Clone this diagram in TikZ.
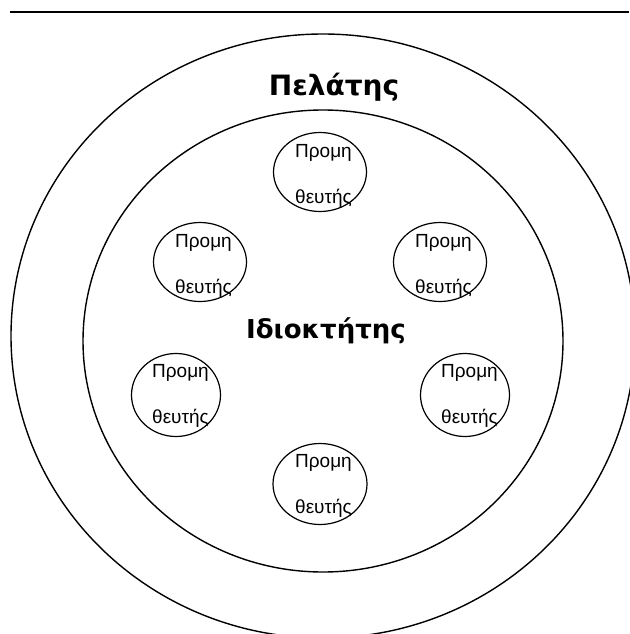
\documentclass[tikz,border=0pt]{standalone}
\usepackage{fontspec}
\setmainfont{Liberation Sans}
\newfontfamily\titlefont{DejaVu Sans}
\usetikzlibrary{shapes.geometric}
\begin{document}
\begin{tikzpicture}[x=1pt, y=-1pt,
  ring/.style={draw, ellipse, line width=1.4pt, inner sep=0pt},
  agent/.style={draw, ellipse, line width=1.2pt, inner sep=0pt},
  % anchored at the baseline of the second line
  agentlabel/.style={align=left, inner sep=0pt, anchor=base west,
    font=\fontsize{19}{46}\selectfont},
  title/.style={inner sep=0pt, anchor=base}
]
\useasboundingbox (0,0) rectangle (629,634);

% rule across the top
\coordinate (ruleL) at (10,12);
\coordinate (ruleR) at (629,12);
\draw[line width=1.8pt] (ruleL) -- (ruleR);

% client ring and owner ring
\node[ring, minimum width=624pt, minimum height=604pt] (client) at (323,336) {};
\node[ring, minimum width=480pt, minimum height=462pt] (owner) at (323,341) {};

\node[title, font=\titlefont\bfseries\fontsize{28}{34}\selectfont] (clientlbl) at (334,95) {Πελάτης};
\node[title, font=\titlefont\bfseries\fontsize{26}{32}\selectfont] (ownerlbl) at (326,338) {Ιδιοκτήτης};

% suppliers
\node[agent, minimum width=93pt, minimum height=79pt] (s1) at (320,172) {};
\node[agentlabel] (s1t) at (295,203) {Προμη\\θευτής};

\node[agent, minimum width=93pt, minimum height=79pt] (s2) at (200,262) {};
\node[agentlabel] (s2t) at (175,293) {Προμη\\θευτής};

\node[agent, minimum width=93pt, minimum height=79pt] (s3) at (440,262) {};
\node[agentlabel] (s3t) at (415,293) {Προμη\\θευτής};

\node[agent, minimum width=89pt, minimum height=83pt] (s4) at (176,395) {};
\node[agentlabel] (s4t) at (152,423) {Προμη\\θευτής};

\node[agent, minimum width=89pt, minimum height=83pt] (s5) at (465,395) {};
\node[agentlabel] (s5t) at (441,423) {Προμη\\θευτής};

\node[agent, minimum width=94pt, minimum height=81pt] (s6) at (320,484) {};
\node[agentlabel] (s6t) at (295,513) {Προμη\\θευτής};
\end{tikzpicture}
\end{document}
